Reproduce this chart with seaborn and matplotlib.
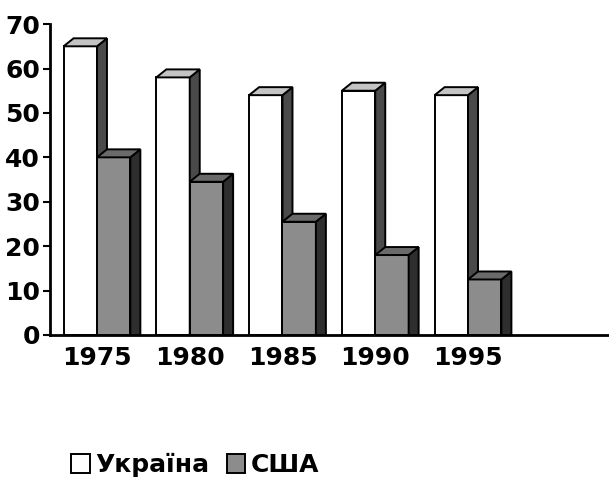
import pandas as pd
import seaborn as sns
import matplotlib.pyplot as plt
from matplotlib.patches import Polygon, Patch

years = ['1975', '1980', '1985', '1990', '1995']
ukraine = [65, 58, 54, 55, 54]
usa = [40, 34.5, 25.5, 18, 12.5]
countries = ['Україна', 'США']

df = pd.DataFrame({
    'рік': years * 2,
    'значення': ukraine + usa,
    'країна': [countries[0]] * len(years) + [countries[1]] * len(years),
})

front = {'Україна': 'white', 'США': '#8c8c8c'}
side = {'Україна': '#4a4a4a', 'США': '#2e2e2e'}
top = {'Україна': '#c4c4c4', 'США': '#6a6a6a'}

sns.set_style('ticks', {'axes.edgecolor': 'black', 'text.color': 'black',
                        'xtick.color': 'black', 'ytick.color': 'black'})
plt.rcParams['font.family'] = ['DejaVu Sans']

fig, ax = plt.subplots(figsize=(6.09, 4.82), dpi=100)
fig.subplots_adjust(left=0.082, right=1.0, bottom=0.305, top=0.95)

sns.barplot(data=df, x='рік', y='значення', hue='країна', hue_order=countries,
            palette=front, edgecolor='black', linewidth=1.4, width=0.72,
            legend=False, ax=ax)

ax.set_xlim(-0.507, 5.52)
ax.set_ylim(0, 70)
ax.set_yticks(range(0, 71, 10))

# 3D-ефект: бічна та верхня грані, побудовані від стовпчиків seaborn
dx, dy = 10, 8
to_data = ax.transData.inverted()
bars = [p for p in ax.patches if p.get_height() > 0]
for i, p in enumerate(bars):
    name = countries[0] if i < len(years) else countries[1]
    z = 2 if name == countries[0] else 3
    p.set_zorder(z)
    x0, y0 = ax.transData.transform((p.get_x(), 0))
    x1, y1 = ax.transData.transform((p.get_x() + p.get_width(), p.get_height()))
    side_pts = to_data.transform([(x1, y0), (x1 + dx, y0), (x1 + dx, y1 + dy), (x1, y1)])
    top_pts = to_data.transform([(x0, y1), (x0 + dx, y1 + dy), (x1 + dx, y1 + dy), (x1, y1)])
    ax.add_patch(Polygon(side_pts, closed=True, facecolor=side[name], edgecolor='black',
                         linewidth=1.4, zorder=z, clip_on=False))
    ax.add_patch(Polygon(top_pts, closed=True, facecolor=top[name], edgecolor='black',
                         linewidth=1.4, zorder=z, clip_on=False))

sns.despine(ax=ax)
ax.spines['left'].set_linewidth(2)
ax.spines['bottom'].set_linewidth(2)
ax.set_xlabel('')
ax.set_ylabel('')
ax.tick_params(axis='y', length=5, width=1.5, pad=2, labelsize=18, colors='black')
ax.tick_params(axis='x', length=0, pad=8, labelsize=18, colors='black')
for lab in ax.get_xticklabels() + ax.get_yticklabels():
    lab.set_fontweight('bold')

handles = [Patch(facecolor=front[c], edgecolor='black', linewidth=1.4, label=c) for c in countries]
fig.legend(handles=handles, loc='center left', bbox_to_anchor=(0.08, 0.035), ncol=2,
           frameon=False, prop={'weight': 'bold', 'size': 18}, labelcolor='black',
           handlelength=0.75, handleheight=0.75, handletextpad=0.2, columnspacing=0.7)

fig.savefig('out.png', dpi=100, facecolor='white')
